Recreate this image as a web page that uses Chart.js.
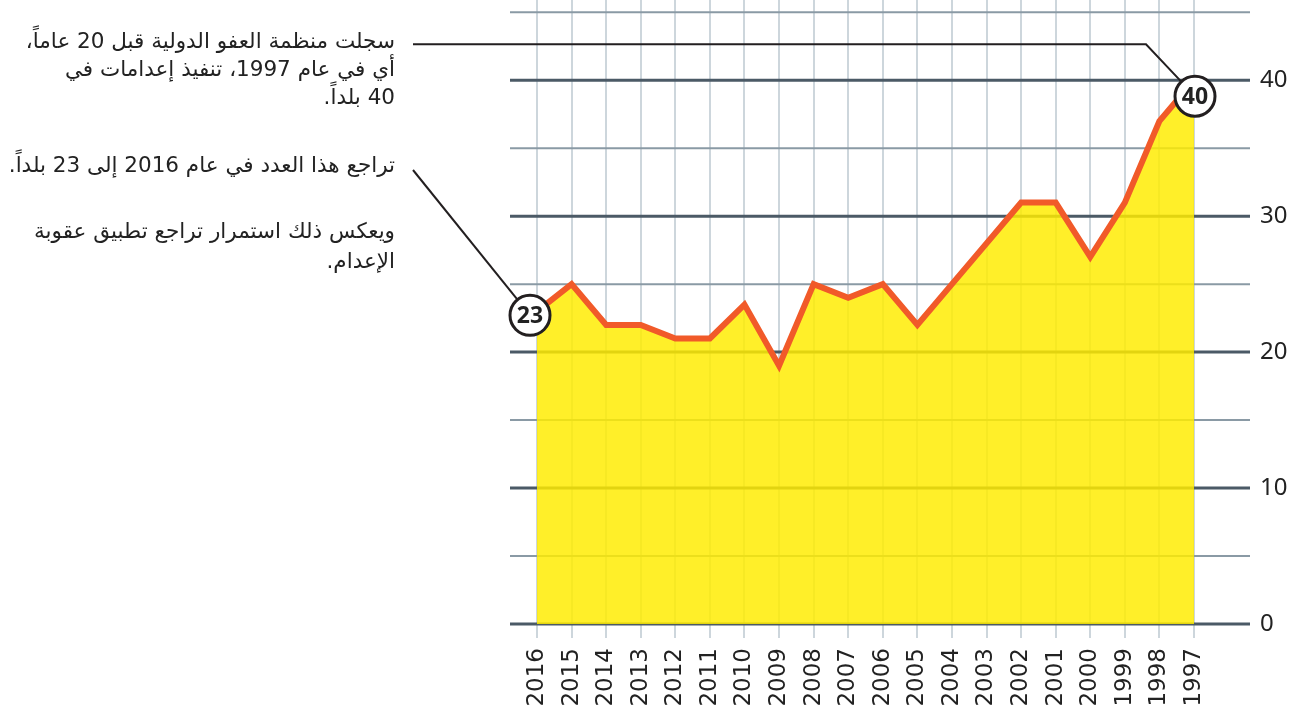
<!DOCTYPE html>
<html lang="ar">
<head>
<meta charset="utf-8">
<script src="https://cdn.jsdelivr.net/npm/chart.js@4.4.0/dist/chart.umd.min.js"></script>
<style>
  body { margin: 0; background: #fff; }
  #wrap { position: relative; width: 1303px; height: 713px; }
  .note {
    position: absolute;
    right: 908px;
    direction: rtl;
    text-align: right;
    white-space: nowrap;
    font-family: "DejaVu Sans", sans-serif;
    font-size: 21.5px;
    color: #222;
  }
</style>
</head>
<body>
<div id="wrap">
  <canvas id="deathChart"></canvas>
  <div class="note" id="note1" style="top:27px; line-height:28px;"></div>
  <div class="note" id="note2" style="top:151px; line-height:28px;"></div>
  <div class="note" id="note3" style="top:216px; line-height:30px;"></div>
</div>
<script>
// years run from newest to oldest, left to right
const years = ["2016", "2015", "2014", "2013", "2012", "2011", "2010", "2009", "2008", "2007",
               "2006", "2005", "2004", "2003", "2002", "2001", "2000", "1999", "1998", "1997"];
const countries = [23, 25, 22, 22, 21, 21, 23.5, 19, 25, 24, 25, 22, 25, 28, 31, 31, 27, 31, 37, 40];

const yMax = 45.9;
const yStep = 5;
const yLabelStep = 10;

// circled callouts: [year, label]
const callouts = [["1997", "40"], ["2016", "23"]];

const note1 = ["سجلت منظمة العفو الدولية قبل 20 عاماً،", "أي في عام 1997، تنفيذ إعدامات في", "40 بلداً."];
const note2 = ["تراجع هذا العدد في عام 2016 إلى 23 بلداً."];
const note3 = ["ويعكس ذلك استمرار تراجع تطبيق عقوبة", "الإعدام."];

function fillNote(id, lines) {
  const el = document.getElementById(id);
  lines.forEach((txt, i) => {
    if (i) el.appendChild(document.createElement("br"));
    el.appendChild(document.createTextNode(txt));
  });
}
fillNote("note1", note1);
fillNote("note2", note2);
fillNote("note3", note3);

// horizontal grid lines, drawn under the (semi transparent) area fill
const hGrid = {
  id: "hGrid",
  beforeDatasetsDraw(chart) {
    const { ctx, chartArea, scales } = chart;
    const y = scales.y;
    ctx.save();
    y.ticks.forEach(t => {
      const major = t.value % yLabelStep === 0;
      const py = y.getPixelForValue(t.value);
      ctx.beginPath();
      ctx.strokeStyle = major ? "#4b5a66" : "#8a9aa5";
      ctx.lineWidth = major ? 3 : 2;
      ctx.moveTo(chartArea.left - 27, py);
      ctx.lineTo(chartArea.right + 56, py);
      ctx.stroke();
    });
    ctx.restore();
  }
};

// leader lines + circled numbers
const calloutPlugin = {
  id: "callouts",
  afterDatasetsDraw(chart) {
    const { ctx, scales } = chart;
    const x = scales.x, y = scales.y;
    const r = 20;

    const i40 = years.indexOf(callouts[0][0]);
    const c40 = { x: x.getPixelForValue(i40) + 1, y: y.getPixelForValue(countries[i40]) + 16 };
    const i23 = years.indexOf(callouts[1][0]);
    const c23 = { x: x.getPixelForValue(i23) - 7, y: y.getPixelForValue(countries[i23]) + 4 };

    ctx.save();
    ctx.strokeStyle = "#231f20";
    ctx.lineWidth = 2;

    // leader to the 1997 circle
    const ly = y.getPixelForValue(countries[i40]) - 36;
    const cx = c40.x - 49;
    let dx = c40.x - cx, dy = c40.y - ly, len = Math.hypot(dx, dy);
    ctx.beginPath();
    ctx.moveTo(413, ly);
    ctx.lineTo(cx, ly);
    ctx.lineTo(c40.x - r * dx / len, c40.y - r * dy / len);
    ctx.stroke();

    // leader to the 2016 circle
    const sx = 413, sy = 170;
    dx = c23.x - sx; dy = c23.y - sy; len = Math.hypot(dx, dy);
    ctx.beginPath();
    ctx.moveTo(sx, sy);
    ctx.lineTo(c23.x - r * dx / len, c23.y - r * dy / len);
    ctx.stroke();

    [[c40, callouts[0][1]], [c23, callouts[1][1]]].forEach(([c, label]) => {
      ctx.beginPath();
      ctx.arc(c.x, c.y, r, 0, Math.PI * 2);
      ctx.fillStyle = "#fff";
      ctx.fill();
      ctx.lineWidth = 3;
      ctx.stroke();
      ctx.fillStyle = "#222";
      ctx.font = "bold 23px 'Noto Sans'";
      ctx.textAlign = "center";
      ctx.textBaseline = "middle";
      ctx.fillText(label, c.x, c.y + 1);
    });
    ctx.restore();
  }
};

const ctx = document.getElementById("deathChart").getContext("2d");
window.deathChart = new Chart(ctx, {
  type: "line",
  data: {
    labels: years,
    datasets: [
      {
        data: countries,
        borderColor: "#f15a29",
        borderWidth: 6,
        borderJoinStyle: "miter",
        backgroundColor: "rgba(255, 236, 0, 0.84)",
        fill: "origin",
        tension: 0,
        pointRadius: 0,
      },
    ],
  },
  options: {
    responsive: true,
    maintainAspectRatio: false,
    animation: false,
    layout: { padding: { left: 537, top: 0, right: 0, bottom: 0 } },
    plugins: { legend: { display: false }, tooltip: { enabled: false } },
    scales: {
      x: {
        offset: false,
        border: { display: false },
        grid: { color: "#cdd6dc", lineWidth: 2, tickLength: 14 },
        ticks: {
          autoSkip: false,
          minRotation: 90,
          maxRotation: 90,
          padding: 10,
          color: "#222",
          font: { family: "DejaVu Sans", size: 23 },
        },
        afterFit: (scale) => { scale.height = 89; },
      },
      y: {
        position: "right",
        min: 0,
        max: yMax,
        border: { display: false },
        // invisible tick marks only push the labels out to the right
        grid: { drawOnChartArea: false, drawTicks: true, tickLength: 66, color: "rgba(0,0,0,0)" },
        ticks: {
          stepSize: yStep,
          includeBounds: false,
          padding: 0,
          color: "#222",
          // zero line height so the labels add no padding above the plot
          font: { family: "Noto Sans", size: 24, lineHeight: 0 },
          callback: (value) => (value % yLabelStep === 0 ? value : ""), // only every 10 gets a label
        },
        afterFit: (scale) => { scale.width = 109; },
      },
    },
  },
  plugins: [hGrid, calloutPlugin],
});
</script>
</body>
</html>
